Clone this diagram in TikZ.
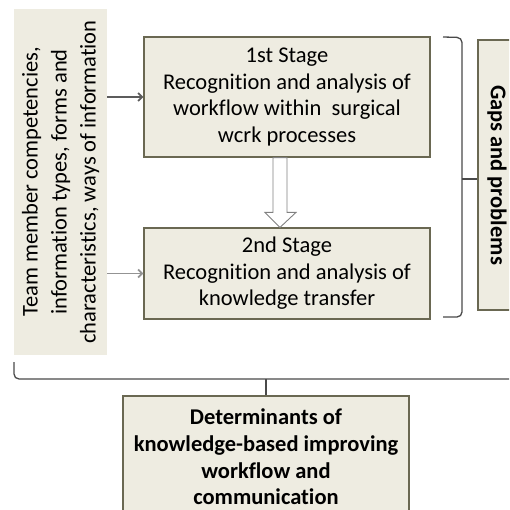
\documentclass[tikz,border=0pt]{standalone}
\usepackage{fontspec}
\setmainfont{Carlito}[Ligatures=NoCommon]
\usetikzlibrary{arrows.meta,calc}
\definecolor{boxfill}{HTML}{EEECE1}
\definecolor{boxline}{HTML}{6A6852}
\definecolor{darkline}{HTML}{4A4A4A}
\tikzset{
  stagebox/.style={draw=boxline, line width=1.2pt, fill=boxfill, align=center, inner sep=0pt,
    font=\fontsize{22.5}{26.5}\selectfont},
  plainbox/.style={fill=boxfill, inner sep=0pt},
  txt/.style={align=center, inner sep=0pt, font=\fontsize{22.5}{29}\selectfont},
  boldtxt/.style={align=center, inner sep=0pt, font=\bfseries\fontsize{22.5}{26.7}\selectfont},
  feed/.style={line width=1.8pt, -{Straight Barb[length=4pt,width=8pt]}},
  bracket/.style={draw=darkline, line width=1.3pt, rounded corners=5pt},
  blockarrow/.style={draw=gray, line width=0.9pt, fill=white}
}
\begin{document}
\begin{tikzpicture}[x=1pt,y=-1pt]
\useasboundingbox (0,0) rectangle (509,510);
\clip (0,0) rectangle (509,510);
% left input box
\node[plainbox, minimum width=93pt, minimum height=346pt] (leftbox) at (60.5,182) {};
\node[txt, rotate=90] (lefttext) at (leftbox.center) {Team member competencies,\\information types, forms and\\characteristics, ways of information};
% stages
\node[stagebox, minimum width=286pt, minimum height=120pt] (s1) at (287,97)
  {1st Stage\\Recognition and analysis of\\workflow within\ \ surgical\\wcrk processes};
\node[stagebox, minimum width=286pt, minimum height=91pt] (s2) at (287,273.5)
  {2nd Stage\\Recognition and analysis of\\knowledge transfer};
% gaps box
\node[draw=boxline, line width=1.2pt, fill=boxfill, minimum width=38pt, minimum height=270pt, inner sep=0pt] (gaps) at (497,175) {};
\node[boldtxt, rotate=-90] (gapstext) at (gaps.center) {Gaps and problems};
% determinants box
\node[stagebox, minimum width=286pt, minimum height=122pt] (det) at (266,457) {};
\node[boldtxt] (dettext) at (det.center) {Determinants of\\knowledge-based improving\\workflow and\\communication};
% feed arrows
\draw[feed, draw=darkline!90] (leftbox.east |- s1.west) -- (s1.west);
\draw[feed, draw=gray!85] (leftbox.east |- s2.west) -- (s2.west);
% block arrow between stages
\coordinate (ba) at ($(s1.south)+(-7,0)$);
\coordinate (bb) at ($(s2.north)+(-7,0)$);
\draw[blockarrow] ($(ba)+(-7,0)$) -- ($(ba)+(7,0)$) -- ($(bb)+(7,-15)$) -- ($(bb)+(16,-15)$)
  -- (bb) -- ($(bb)+(-15,-15)$) -- ($(bb)+(-7,-15)$) -- cycle;
% right brace
\coordinate (rbtop) at (443,37);
\coordinate (rbbot) at (443,317);
\coordinate (rbmid) at (462,179);
\draw[bracket] (rbtop) -- (462,37.5) -- (462,317) -- (rbbot);
\draw[darkline, line width=1.3pt] (rbmid) -- (gaps.west |- rbmid);
% bottom brace
\coordinate (bbl) at (14,362);
\coordinate (bbr) at (520,379);
\coordinate (bbmid) at (det.north |- bbr);
\draw[bracket] (bbl) -- (14,379) -- (bbr);
\draw[darkline, line width=1.3pt] (bbmid) -- (det.north);
\end{tikzpicture}
\end{document}
